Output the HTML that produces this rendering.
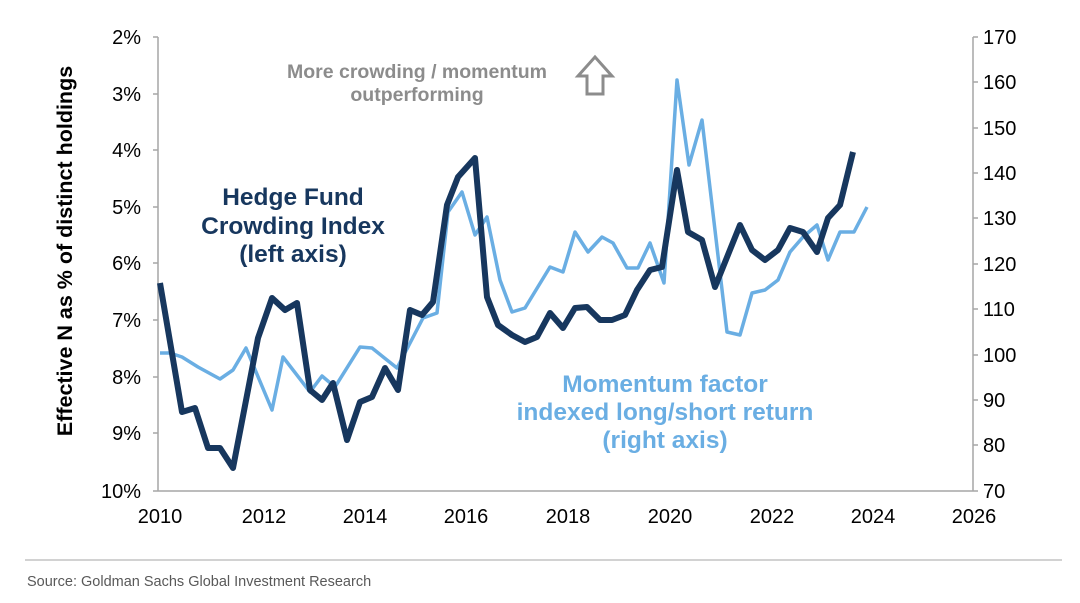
<!DOCTYPE html>
<html><head><style>
body{margin:0;background:#fff;}
svg text{font-family:"Liberation Sans",Arial,sans-serif;}
</style></head><body>
<svg width="1080" height="598" viewBox="0 0 1080 598" xmlns="http://www.w3.org/2000/svg">
<rect width="1080" height="598" fill="#fff"/>
<g stroke="#a6a6a6" stroke-width="1.5" fill="none">
<line x1="158" y1="37" x2="158" y2="491"/>
<line x1="973" y1="37" x2="973" y2="491"/>
<line x1="158" y1="491" x2="973" y2="491"/>
<path d="M153 37H158M153 94H158M153 150H158M153 207H158M153 263H158M153 320H158M153 377H158M153 433H158M153 491H158"/>
<path d="M973 37H978M973 82H978M973 128H978M973 173H978M973 218H978M973 264H978M973 309H978M973 355H978M973 400H978M973 445H978M973 491H978"/>
</g>
<g font-size="20" fill="#000" text-anchor="end">
<text x="141" y="44">2%</text><text x="141" y="101">3%</text><text x="141" y="157">4%</text><text x="141" y="214">5%</text><text x="141" y="270">6%</text><text x="141" y="327">7%</text><text x="141" y="384">8%</text><text x="141" y="440">9%</text><text x="141" y="498">10%</text>
</g>
<g font-size="20" fill="#000" text-anchor="start">
<text x="983" y="44">170</text><text x="983" y="89">160</text><text x="983" y="135">150</text><text x="983" y="180">140</text><text x="983" y="225">130</text><text x="983" y="271">120</text><text x="983" y="316">110</text><text x="983" y="362">100</text><text x="983" y="407">90</text><text x="983" y="452">80</text><text x="983" y="498">70</text>
</g>
<g font-size="20" fill="#000" text-anchor="middle">
<text x="160" y="523">2010</text><text x="264" y="523">2012</text><text x="365" y="523">2014</text><text x="466" y="523">2016</text><text x="568" y="523">2018</text><text x="670" y="523">2020</text><text x="772" y="523">2022</text><text x="873" y="523">2024</text><text x="974" y="523">2026</text>
</g>
<text transform="translate(72,251) rotate(-90)" font-size="21.5" font-weight="bold" text-anchor="middle">Effective N as % of distinct holdings</text>
<polyline fill="none" stroke="#6aaee3" stroke-width="3.5" stroke-linejoin="round" points="160,353 170,353 182,357 198,367 220,379 233,370 246,348 272,410 283,357 310,392 322,376 335,387 360,347 372,348 397,368 408,347 423,318 437,313 448,212 462,192 475,235 487,217 500,280 512,312 525,308 550,267 563,272 575,232 588,252 602,237 613,243 627,268 638,268 650,243 664,283 677,80 689,165 702,120 727,332 740,335 752,293 765,290 778,280 790,252 803,237 817,225 828,260 840,232 854,232 867,207"/>
<polyline fill="none" stroke="#17375e" stroke-width="6" stroke-linejoin="round" points="160,283 182,412 195,408 208,448 220,448 233,468 258,338 272,298 285,310 297,303 310,390 322,400 333,383 347,440 360,402 372,397 385,368 398,390 410,310 422,315 433,302 447,205 458,177 475,158 487,297 498,325 512,335 525,342 537,337 550,313 563,328 575,308 587,307 600,320 612,320 625,315 637,290 650,270 662,267 677,170 688,232 702,240 715,287 740,225 752,250 765,260 778,250 790,228 803,232 817,252 828,218 840,205 853,152"/>
<g font-size="24.5" font-weight="bold" fill="#17375e" text-anchor="middle">
<text x="293" y="205">Hedge Fund</text><text x="293" y="234">Crowding Index</text><text x="293" y="262">(left axis)</text>
</g>
<g font-size="24.5" font-weight="bold" fill="#6aaee3" text-anchor="middle">
<text x="665" y="392">Momentum factor</text><text x="665" y="420">indexed long/short return</text><text x="665" y="448">(right axis)</text>
</g>
<g font-size="19.5" font-weight="bold" fill="#8c8c8c" text-anchor="middle">
<text x="417" y="78">More crowding / momentum</text><text x="417" y="101">outperforming</text>
</g>
<path d="M595 57 L612 76 L603 76 L603 94 L587 94 L587 76 L578 76 Z" fill="#fff" stroke="#8c8c8c" stroke-width="3" stroke-linejoin="miter"/>
<line x1="25" y1="560" x2="1062" y2="560" stroke="#a6a6a6" stroke-width="1"/>
<text x="27" y="586" font-size="14.5" fill="#595959">Source: Goldman Sachs Global Investment Research</text>
</svg>
</body></html>
